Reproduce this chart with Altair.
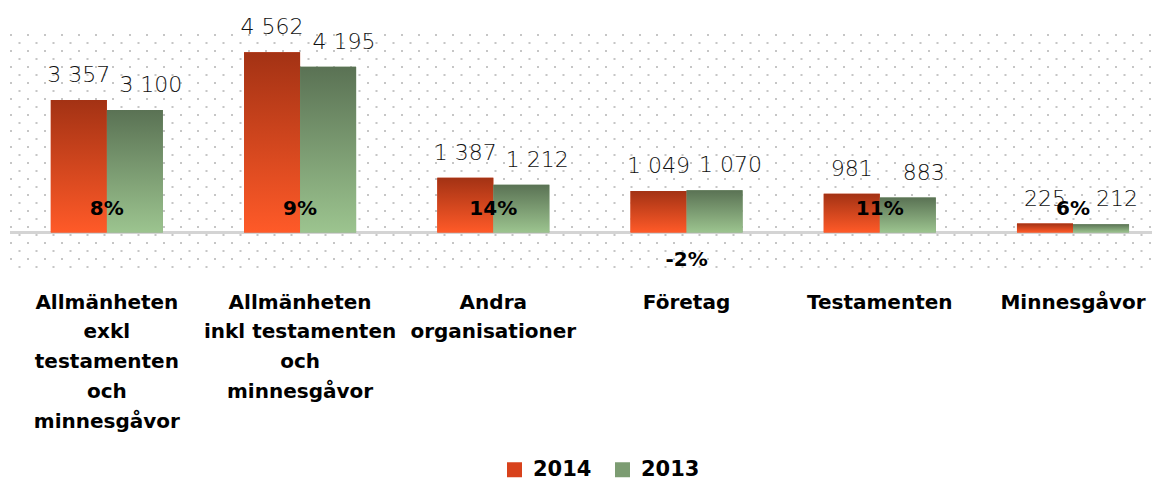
import altair as alt
import pandas as pd

# ---- data ----
categories = [
    "Allmänheten\nexkl\ntestamenten\noch\nminnesgåvor",
    "Allmänheten\ninkl testamenten\noch\nminnesgåvor",
    "Andra\norganisationer",
    "Företag",
    "Testamenten",
    "Minnesgåvor",
]
years = ["2014", "2013"]
values_2014 = [3357, 4562, 1387, 1049, 981, 225]
values_2013 = [3100, 4195, 1212, 1070, 883, 212]
change_pct = [8, 9, 14, -2, 11, 6]

# ---- styling ----
FONT = "DejaVu Sans"
GRAD_2014 = ["#A33214", "#FF5A28"]
GRAD_2013 = ["#5A7254", "#9CC48F"]
SOLID = ["#D8421C", "#7C9C72"]
PLOT_H = 237
Y_MIN, Y_MAX = -1000, 5000

rows = []
for c, a, b in zip(categories, values_2014, values_2013):
    rows.append({"category": c, "year": "2014", "value": a})
    rows.append({"category": c, "year": "2013", "value": b})
df = pd.DataFrame(rows)
pct_df = pd.DataFrame({"category": categories, "pct": change_pct})

# dotted background: one grid row every 8 px, starting at the plot top
units_per_px = (Y_MAX - Y_MIN) / PLOT_H
row_step = 8 * units_per_px
grid_ticks = [round(Y_MAX - k * row_step, 4) for k in range(30)]

x_enc = alt.X(
    "category:N",
    sort=categories,
    scale=alt.Scale(paddingInner=0.42, paddingOuter=0.165, align=0.64),
    axis=alt.Axis(
        title=None,
        labelAngle=0,
        labelFont=FONT,
        labelFontSize=20,
        labelFontWeight="bold",
        labelColor="#000000",
        labelLineHeight=29.8,
        labelPadding=20,
        labelLimit=400,
        labelExpr="split(datum.label, '\\n')",
        domain=False,
        ticks=False,
        grid=False,
    ),
)
xoff_enc = alt.XOffset(
    "year:N", sort=years,
    scale=alt.Scale(domain=years, paddingInner=0, paddingOuter=0),
)
y_axis = alt.Axis(
    title=None,
    labels=False,
    ticks=False,
    domain=False,
    grid=True,
    values=grid_ticks,
    tickCount=len(grid_ticks) + 5,
    translate=0,
    gridColor="#c6c6c6",
    gridWidth=2,
    gridDash=[2, 15],
    gridDashOffset={
        "condition": {
            "test": f"round(({Y_MAX} - datum.value) / {row_step}) % 2 === 0",
            "value": 0,
        },
        "value": 8.5,
    },
)
y_scale = alt.Scale(domain=[Y_MIN, Y_MAX], nice=False, zero=False)
y_enc = alt.Y("value:Q", scale=y_scale, axis=y_axis)

base = alt.Chart(df)

baseline = base.mark_rule(color="#d4d4d4", strokeWidth=2).encode(
    y=alt.datum(0, scale=y_scale, axis=y_axis)
)

solid = base.mark_bar().encode(
    x=x_enc,
    xOffset=xoff_enc,
    y=y_enc,
    y2=alt.datum(0),
    color=alt.Color(
        "year:N",
        sort=years,
        scale=alt.Scale(domain=years, range=SOLID),
        legend=alt.Legend(
            title=None,
            orient="none",
            direction="horizontal",
            legendX=494,
            legendY=424,
            symbolType="square",
            symbolSize=225,
            symbolStrokeWidth=0,
            labelFont=FONT,
            labelFontSize=21,
            labelFontWeight="bold",
            labelColor="#000000",
            labelOffset=8,
            columnPadding=20,
            padding=0,
        ),
    ),
)


def grad(cols):
    return alt.Gradient(
        gradient="linear",
        stops=[alt.GradientStop(color=cols[0], offset=0),
               alt.GradientStop(color=cols[1], offset=1)],
        x1=0, x2=0, y1=0, y2=1,
    )


bars14 = base.transform_filter("datum.year == '2014'").mark_bar(fill=grad(GRAD_2014)).encode(
    x=x_enc, xOffset=xoff_enc, y=y_enc, y2=alt.datum(0)
)
bars13 = base.transform_filter("datum.year == '2013'").mark_bar(fill=grad(GRAD_2013)).encode(
    x=x_enc, xOffset=xoff_enc, y=y_enc, y2=alt.datum(0)
)

lab_props = dict(font=FONT, fontSize=22, fontWeight=200, color="#111111",
                 baseline="alphabetic", align="center")
lab14 = base.transform_filter("datum.year == '2014'").transform_calculate(
    lbl="replace(format(datum.value, ','), ',', ' ')"
).mark_text(dy=-18, **lab_props).encode(
    x=x_enc, xOffset=xoff_enc, y=y_enc, text="lbl:N"
)
lab13 = base.transform_filter("datum.year == '2013'").transform_calculate(
    lbl="replace(format(datum.value, ','), ',', ' ')"
).mark_text(dy=-18, dx=16, **lab_props).encode(
    x=x_enc, xOffset=xoff_enc, y=y_enc, text="lbl:N"
)

pct_base = alt.Chart(pct_df).transform_calculate(lbl="datum.pct + '%'")
pct_props = dict(font=FONT, fontSize=20, fontWeight="bold", color="#000000",
                 baseline="middle", align="center")
pct_pos = pct_base.transform_filter("datum.pct >= 0").mark_text(dy=-24, **pct_props).encode(
    x=x_enc, y=alt.datum(0), text="lbl:N"
)
pct_neg = pct_base.transform_filter("datum.pct < 0").mark_text(dy=27, **pct_props).encode(
    x=x_enc, y=alt.datum(0), text="lbl:N"
)

chart = alt.layer(
    baseline, solid, bars14, bars13, lab14, lab13, pct_pos, pct_neg
).properties(
    width=1142,
    height=PLOT_H,
    autosize=alt.AutoSizeParams(type="none"),
    padding={"left": 2, "top": 27, "right": 0, "bottom": 208},
).configure_view(stroke=None)

chart.save("out.html", embed_options={"renderer": "svg", "actions": False})
